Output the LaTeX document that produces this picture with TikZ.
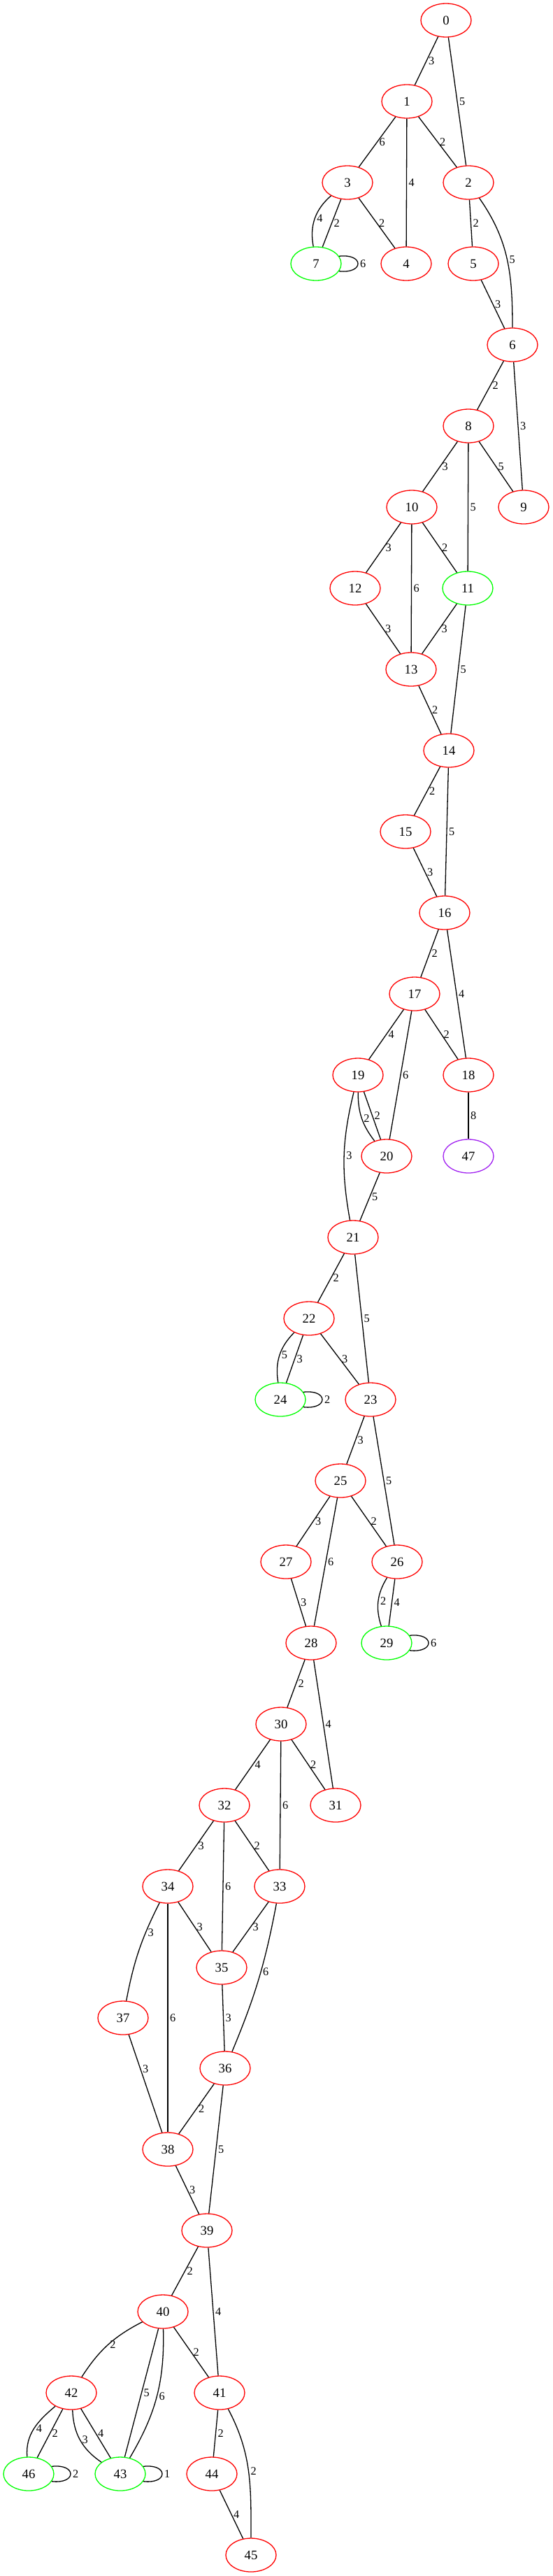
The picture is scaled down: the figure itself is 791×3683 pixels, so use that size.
\documentclass[tikz,border=0pt]{standalone}
\usepackage{fontspec}
\setmainfont{Liberation Serif}
\usetikzlibrary{shapes.geometric}
\definecolor{vgreen}{RGB}{0,255,0}
\definecolor{vpurple}{RGB}{160,32,240}
\tikzset{
  vertex/.style={ellipse, draw, minimum width=72pt, minimum height=48pt, inner sep=0pt, font=\fontsize{18.7}{20}\selectfont},
  rvertex/.style={vertex, draw=red},
  gvertex/.style={vertex, draw=vgreen},
  pvertex/.style={vertex, draw=vpurple},
  lbl/.style={right, inner xsep=2.5pt, inner ysep=0pt, font=\fontsize{16.3}{18}\selectfont}
}
\begin{document}
\begin{tikzpicture}[x=1pt, y=-1pt, line width=1.3pt]
    \useasboundingbox (0,0) rectangle (791,3683);
    % vertices
    \node[rvertex] (n0) at (638,29) {0};
    \node[rvertex] (n1) at (582,145) {1};
    \node[rvertex] (n3) at (497,261) {3};
    \node[rvertex] (n2) at (670,261) {2};
    \node[gvertex] (n7) at (452,377) {7};
    \node[rvertex] (n4) at (581,377) {4};
    \node[rvertex] (n5) at (677,377) {5};
    \node[rvertex] (n6) at (733,493) {6};
    \node[rvertex] (n8) at (670,609) {8};
    \node[rvertex] (n10) at (589,725) {10};
    \node[rvertex] (n9) at (749,725) {9};
    \node[rvertex] (n12) at (508,841) {12};
    \node[gvertex] (n11) at (669,841) {11};
    \node[rvertex] (n13) at (588,957) {13};
    \node[rvertex] (n14) at (642,1073) {14};
    \node[rvertex] (n15) at (580,1189) {15};
    \node[rvertex] (n16) at (636,1305) {16};
    \node[rvertex] (n17) at (593,1421) {17};
    \node[rvertex] (n19) at (512,1537) {19};
    \node[rvertex] (n18) at (670,1537) {18};
    \node[rvertex] (n20) at (553,1653) {20};
    \node[pvertex] (n47) at (670,1653) {47};
    \node[rvertex] (n21) at (505,1769) {21};
    \node[rvertex] (n22) at (442,1885) {22};
    \node[gvertex] (n24) at (401,2001) {24};
    \node[rvertex] (n23) at (530,2001) {23};
    \node[rvertex] (n25) at (487,2117) {25};
    \node[rvertex] (n27) at (409,2233) {27};
    \node[rvertex] (n26) at (568,2233) {26};
    \node[rvertex] (n28) at (445,2349) {28};
    \node[gvertex] (n29) at (553,2349) {29};
    \node[rvertex] (n30) at (402,2465) {30};
    \node[rvertex] (n32) at (321,2581) {32};
    \node[rvertex] (n31) at (480,2581) {31};
    \node[rvertex] (n34) at (240,2697) {34};
    \node[rvertex] (n33) at (400,2697) {33};
    \node[rvertex] (n35) at (317,2813) {35};
    \node[rvertex] (n37) at (176,2885) {37};
    \node[rvertex] (n36) at (322,2957) {36};
    \node[rvertex] (n38) at (240,3073) {38};
    \node[rvertex] (n39) at (296,3189) {39};
    \node[rvertex] (n40) at (233,3305) {40};
    \node[rvertex] (n42) at (102,3421) {42};
    \node[rvertex] (n41) at (314,3421) {41};
    \node[gvertex] (n46) at (41,3537) {46};
    \node[gvertex] (n43) at (172,3537) {43};
    \node[rvertex] (n44) at (303,3537) {44};
    \node[rvertex] (n45) at (359,3653) {45};
    % edges 0 - 9
    \draw (n0) -- node[lbl]{3} (n1);
    \draw (n0) -- node[lbl]{5} (n2);
    \draw (n1) -- node[lbl]{6} (n3);
    \draw (n1) -- node[lbl]{4} (n4);
    \draw (n1) -- node[lbl]{2} (n2);
    \draw (n3) to[bend right=30] node[lbl]{4} (n7);
    \draw (n3) -- node[lbl]{2} (n7);
    \draw (n3) -- node[lbl]{2} (n4);
    \draw (n7.18) .. controls +(36,-4) and +(36,4) .. node[lbl]{6} (n7.-18); % loop
    \draw (n2) -- node[lbl]{2} (n5);
    \draw (n2) to[out=-55,in=90] node[lbl]{5} (n6);
    \draw (n5) -- node[lbl]{3} (n6);
    \draw (n6) -- node[lbl]{2} (n8);
    \draw (n6) -- node[lbl]{3} (n9);
    \draw (n8) -- node[lbl]{3} (n10);
    \draw (n8) -- node[lbl]{5} (n11);
    \draw (n8) -- node[lbl]{5} (n9);
    % edges 10 - 19
    \draw (n10) -- node[lbl]{3} (n12);
    \draw (n10) -- node[lbl]{6} (n13);
    \draw (n10) -- node[lbl]{2} (n11);
    \draw (n12) -- node[lbl]{3} (n13);
    \draw (n11) -- node[lbl]{3} (n13);
    \draw (n11) -- node[lbl]{5} (n14);
    \draw (n13) -- node[lbl]{2} (n14);
    \draw (n14) -- node[lbl]{2} (n15);
    \draw (n14) -- node[lbl]{5} (n16);
    \draw (n15) -- node[lbl]{3} (n16);
    \draw (n16) -- node[lbl]{2} (n17);
    \draw (n16) -- node[lbl]{4} (n18);
    \draw (n17) -- node[lbl]{4} (n19);
    \draw (n17) -- node[lbl]{6} (n20);
    \draw (n17) -- node[lbl]{2} (n18);
    \draw (n18) -- node[lbl]{8} (n47);
    \draw (n19) to[bend right=19] node[lbl]{2} (n20);
    \draw (n19) -- node[lbl]{2} (n20);
    \draw (n19) to[bend right=12] node[lbl]{3} (n21);
    % edges 20 - 29
    \draw (n20) -- node[lbl]{5} (n21);
    \draw (n21) -- node[lbl]{2} (n22);
    \draw (n21) -- node[lbl]{5} (n23);
    \draw (n22) to[bend right=27] node[lbl]{5} (n24);
    \draw (n22) -- node[lbl]{3} (n24);
    \draw (n22) -- node[lbl]{3} (n23);
    \draw (n24.18) .. controls +(36,-4) and +(36,4) .. node[lbl]{2} (n24.-18); % loop
    \draw (n23) -- node[lbl]{3} (n25);
    \draw (n23) -- node[lbl]{5} (n26);
    \draw (n25) -- node[lbl]{3} (n27);
    \draw (n25) -- node[lbl]{6} (n28);
    \draw (n25) -- node[lbl]{2} (n26);
    \draw (n27) -- node[lbl]{3} (n28);
    \draw (n26) to[bend right=25] node[lbl]{2} (n29);
    \draw (n26) -- node[lbl]{4} (n29);
    \draw (n29.18) .. controls +(36,-4) and +(36,4) .. node[lbl]{6} (n29.-18); % loop
    % edges 30 - 39
    \draw (n28) -- node[lbl]{2} (n30);
    \draw (n28) -- node[lbl]{4} (n31);
    \draw (n30) -- node[lbl]{4} (n32);
    \draw (n30) -- node[lbl]{6} (n33);
    \draw (n30) -- node[lbl]{2} (n31);
    \draw (n32) -- node[lbl]{3} (n34);
    \draw (n32) -- node[lbl]{6} (n35);
    \draw (n32) -- node[lbl]{2} (n33);
    \draw (n34) to[bend right=8] node[lbl,pos=0.3]{3} (n37);
    \draw (n34) -- node[lbl]{6} (n38);
    \draw (n34) -- node[lbl]{3} (n35);
    \draw (n33) -- node[lbl]{3} (n35);
    \draw (n33) to[bend left=6] node[lbl,pos=0.45]{6} (n36);
    \draw (n35) -- node[lbl]{3} (n36);
    \draw (n37) -- node[lbl,pos=0.35]{3} (n38);
    \draw (n36) -- node[lbl]{2} (n38);
    \draw (n36) -- node[lbl]{5} (n39);
    \draw (n38) -- node[lbl]{3} (n39);
    % edges 40 - 46
    \draw (n39) -- node[lbl]{2} (n40);
    \draw (n39) -- node[lbl]{4} (n41);
    \draw (n40) to[bend right=15] node[lbl]{2} (n42);
    \draw (n40) -- node[lbl]{5} (n43);
    \draw (n40) to[bend left=16] node[lbl]{6} (n43);
    \draw (n40) -- node[lbl]{2} (n41);
    \draw (n42) to[out=220,in=95] node[lbl]{4} (n46);
    \draw (n42) -- node[lbl]{2} (n46);
    \draw (n42) to[bend right=27] node[lbl]{3} (n43);
    \draw (n42) -- node[lbl]{4} (n43);
    \draw (n46.18) .. controls +(36,-4) and +(36,4) .. node[lbl]{2} (n46.-18); % loop
    \draw (n43.18) .. controls +(36,-4) and +(36,4) .. node[lbl]{1} (n43.-18); % loop
    \draw (n41) -- node[lbl]{2} (n44);
    \draw (n41) to[out=-62,in=90] node[lbl]{2} (n45);
    \draw (n44) -- node[lbl]{4} (n45);
\end{tikzpicture}
\end{document}
